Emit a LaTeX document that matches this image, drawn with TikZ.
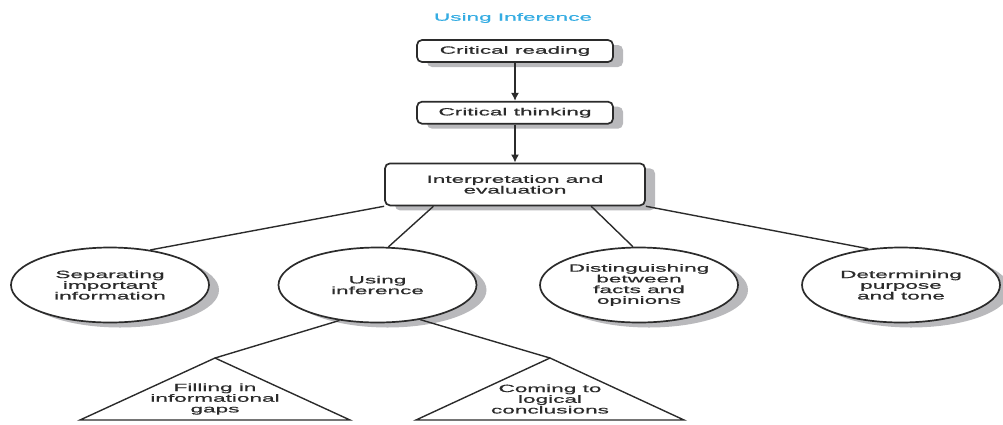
\documentclass[tikz,border=0pt]{standalone}
\usepackage{fontspec}
\newfontfamily\wide[FakeStretch=2.15,FakeBold=0.8]{Liberation Sans}
\usetikzlibrary{arrows.meta,positioning,shapes.geometric}
\definecolor{colorTitle}{HTML}{35ACE2}
\definecolor{colorShade}{HTML}{B9B9BC}
\definecolor{colorInk}{HTML}{2B2B2B}

\begin{document}
\begin{tikzpicture}[x=1pt,y=-1pt,node distance=38pt,>={Latex[length=8pt,width=8pt]},every node/.append style={align=center,font=\wide\fontsize{10.5}{10.7}\selectfont,text=colorInk},shade/.style={preaction={draw=none,fill=colorShade,transform canvas={shift={(10pt,-5pt)}}}},box/.style={shade,draw=colorInk,line width=1.7pt,rounded corners=5pt,fill=white,inner sep=0pt},oval/.style={shade,ellipse,draw=colorInk,line width=1.7pt,fill=white,minimum width=198pt,minimum height=75pt,inner sep=-6pt},link/.style={color=colorInk,line width=1.4pt},tri/.style={draw=colorInk,line width=1.4pt}]
    \useasboundingbox (0,0) rectangle (1003,424);
    \node [text=colorTitle] (title) at (513,18) {Using Inference};
    \node [box, minimum width=196pt, minimum height=22pt] (read) at (515,51) {Critical reading};
    \node [box, minimum width=196pt, minimum height=22pt, below=of read] (think) {Critical thinking};
    \node [box, minimum width=260pt, minimum height=42pt, below=of think] (interp) {Interpretation and\\evaluation};
    \path[->,link] (read) edge (think);
    \path[->,link] (think) edge (interp);
    \node [oval] (sep) at (110,285) {Separating\\important\\information};
    \node [oval] (infer) at (377.5,285) {Using\\inference};
    \node [oval] (dist) at (639,285) {Distinguishing\\between\\facts and\\opinions};
    \node [oval] (purp) at (901,285) {Determining\\purpose\\and tone};
    \path[link] (interp.south west) edge (sep.41);
    \path[link] (interp.195) edge (infer.74);
    \path[link] (interp.-16) edge (dist.99);
    \path[link] (interp.south east) edge (purp.132);
    \coordinate (fillTop) at (215,358);
    \coordinate (concTop) at (550,358);
    \draw[tri] (fillTop) -- ++(-135,62) -- ++(270,0) -- cycle;
    \draw[tri] (concTop) -- ++(-134,62) -- ++(268,0) -- cycle;
    \node (fill) at (215,399) {Filling in\\informational\\gaps};
    \node (conc) at (550,399) {Coming to\\logical\\conclusions};
    \path[link] (infer.223) edge (fillTop);
    \path[link] (infer.-39) edge (concTop);
\end{tikzpicture}
\end{document}
